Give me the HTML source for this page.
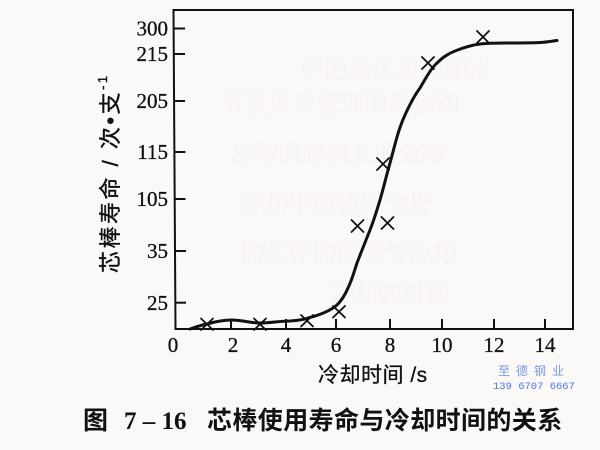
<!DOCTYPE html>
<html>
<head>
<meta charset="utf-8">
<style>
  html,body{margin:0;padding:0;background:#fbf9f8;}
  svg{display:block;}
</style>
</head>
<body>
<svg width="600" height="450" viewBox="0 0 600 450" xmlns="http://www.w3.org/2000/svg">
  <rect width="600" height="450" fill="#fbf9f8"/>
  <!-- faint show-through -->
  <g fill="#f0dcdc" font-family="'Liberation Serif','Noto Serif CJK SC',serif" font-size="24" opacity="0.22">
    <text x="300" y="78">中的是法与冷却水</text>
    <text x="220" y="112">节装关于管理的数据和</text>
    <text x="230" y="162">冷却的时间长的效率</text>
    <text x="240" y="212">冷却中的情况分析</text>
    <text x="240" y="262">的芯棒的位置与冷却</text>
    <text x="330" y="302">冷却的时间</text>
  </g>

  <!-- frame -->
  <g stroke="#111" stroke-width="2" fill="none" stroke-linecap="square">
    <line x1="173.5" y1="10" x2="573" y2="10"/>
    <line x1="573" y1="10" x2="573" y2="329"/>
    <line x1="175.5" y1="329" x2="573" y2="329"/>
    <line x1="173.5" y1="10" x2="175.5" y2="329"/>
  </g>

  <!-- y ticks -->
  <g stroke="#111" stroke-width="2">
    <line x1="174" y1="28.5" x2="185" y2="28.5"/>
    <line x1="174" y1="54" x2="185" y2="54"/>
    <line x1="174" y1="101" x2="185" y2="101"/>
    <line x1="174.5" y1="152" x2="185.5" y2="152"/>
    <line x1="174.5" y1="199" x2="185.5" y2="199"/>
    <line x1="175" y1="251" x2="186" y2="251"/>
    <line x1="175" y1="302.7" x2="186" y2="302.7"/>
  </g>
  <!-- x ticks -->
  <g stroke="#111" stroke-width="2">
    <line x1="231" y1="329" x2="231" y2="319"/>
    <line x1="286" y1="329" x2="286" y2="319"/>
    <line x1="336" y1="329" x2="336" y2="319"/>
    <line x1="390" y1="329" x2="390" y2="319"/>
    <line x1="442" y1="329" x2="442" y2="319"/>
    <line x1="494" y1="329" x2="494" y2="319"/>
    <line x1="545" y1="329" x2="545" y2="319"/>
  </g>

  <!-- y tick labels -->
  <g font-family="'Liberation Serif',serif" font-size="21" fill="#111" text-anchor="end" stroke="#111" stroke-width="0.3">
    <text x="168" y="35.5">300</text>
    <text x="168" y="61">215</text>
    <text x="168" y="108">205</text>
    <text x="168" y="159">115</text>
    <text x="168" y="206">105</text>
    <text x="168" y="258">35</text>
    <text x="168" y="310">25</text>
  </g>
  <!-- x tick labels -->
  <g font-family="'Liberation Serif',serif" font-size="21" fill="#111" text-anchor="middle" stroke="#111" stroke-width="0.3">
    <text x="173" y="352">0</text>
    <text x="233" y="352">2</text>
    <text x="286" y="352">4</text>
    <text x="336" y="352">6</text>
    <text x="390" y="352">8</text>
    <text x="442" y="352">10</text>
    <text x="494" y="352">12</text>
    <text x="545" y="352">14</text>
  </g>

  <!-- curve -->
  <path d="M190,329 C196,327 201,325 207,324 C214,322 222,320 232,320 C242,320 250,323 260,323 C270,323 280,321 290,321 C298,320.5 303,320 308,318 C320,315 330,311 337,305 C342,300 345,295 348,288 C352,280 354,272 357,263 C362,250 366,240 370,230 C374,220 377,210 380,200 C383,190 386,177 390,163 C395,145 398,130 405,115 C410,104 414,96 420,88 C426,78 430,70 435,65 C442,58 447,54 455,51 C465,47 472,45 480,44 C490,43 495,43 505,43 C520,43 530,43 540,42.5 C548,42 552,41 557,40.5"
        fill="none" stroke="#111" stroke-width="3" stroke-linecap="round" stroke-linejoin="round"/>

  <!-- markers -->
  <g stroke="#111" stroke-width="1.8" stroke-linecap="round">
    <path d="M201,318.5 L213,330 M201,330 L213,318.5"/>
    <path d="M254,318.5 L266,330 M254,330 L266,318.5"/>
    <path d="M301,315 L313,326.5 M301,326.5 L313,315"/>
    <path d="M333,306 L345,317.5 M333,317.5 L345,306"/>
    <path d="M351.5,220 L363.5,232 M351.5,232 L363.5,220"/>
    <path d="M381.5,217 L393.5,229 M381.5,229 L393.5,217"/>
    <path d="M377,158 L389,170 M377,170 L389,158"/>
    <path d="M422,57 L434,69 M422,69 L434,57"/>
    <path d="M477,31 L489,43 M477,43 L489,31"/>
  </g>

  <!-- y axis label -->
  <g transform="translate(118,273) rotate(-90)">
    <text x="0" y="0" font-family="'Liberation Sans','Noto Sans CJK SC',sans-serif" font-size="22" fill="#111" stroke="#111" stroke-width="0.4" letter-spacing="2.5">芯棒寿命 / 次•支<tspan font-size="13" dy="-11">-1</tspan></text>
  </g>

  <!-- x axis label -->
  <text x="318" y="382" font-family="'Liberation Sans','Noto Sans CJK SC',sans-serif" font-size="21" fill="#111" stroke="#111" stroke-width="0.3" letter-spacing="0.5">冷却时间 /s</text>

  <!-- watermark -->
  <text x="498" y="375" font-family="'Liberation Sans','Noto Sans CJK SC',sans-serif" font-size="12" fill="#7b96e0" letter-spacing="6">至德钢业</text>
  <text x="493" y="389" font-family="'Liberation Mono',monospace" font-size="10.5" fill="#4f78e0">139 6707 6667</text>

  <!-- caption -->
  <text x="83" y="429" font-family="'Liberation Sans','Noto Sans CJK SC',sans-serif" font-size="25" font-weight="bold" fill="#111">图</text>
  <text x="124" y="429" font-family="'Liberation Serif',serif" font-size="25" font-weight="bold" fill="#111">7 – 16</text>
  <text x="207" y="429" font-family="'Liberation Sans','Noto Sans CJK SC',sans-serif" font-size="25" font-weight="bold" fill="#111" letter-spacing="0.4">芯棒使用寿命与冷却时间的关系</text>
</svg>
</body>
</html>
